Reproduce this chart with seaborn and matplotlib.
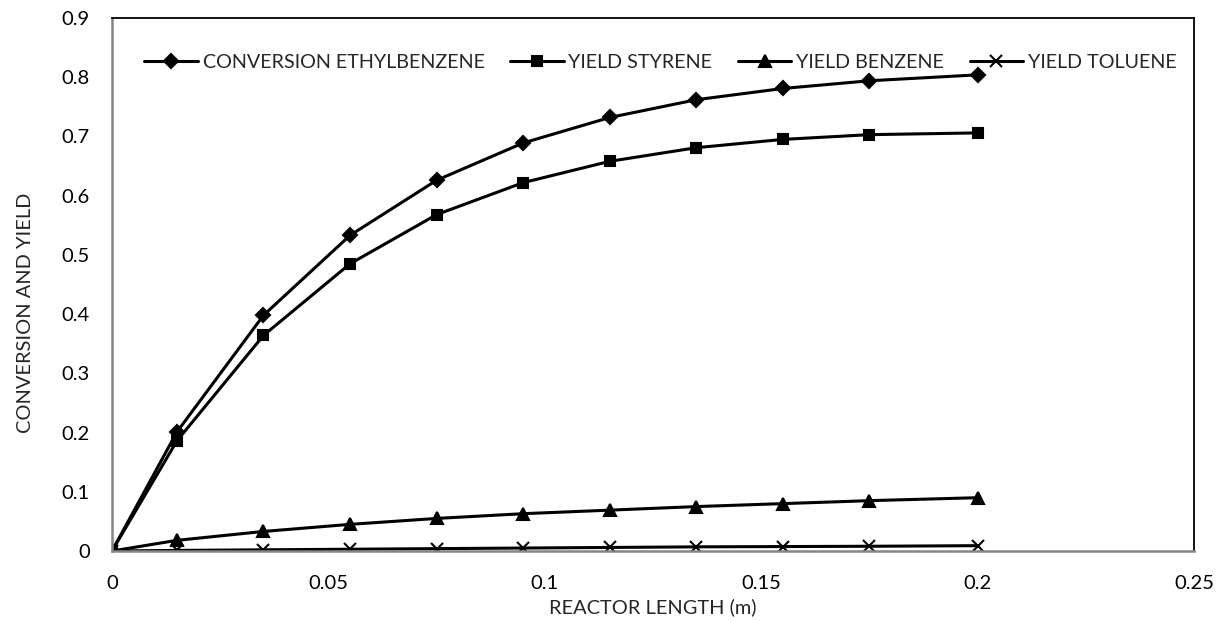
import numpy as np
import pandas as pd
import matplotlib
matplotlib.use("Agg")
import matplotlib.pyplot as plt
import seaborn as sns

# reactor length (m)
length = [0, 0.015, 0.035, 0.055, 0.075, 0.095, 0.115, 0.135, 0.155, 0.175, 0.2]

conversion_eb = [0, 0.201, 0.398, 0.533, 0.626, 0.689, 0.732, 0.762, 0.781, 0.794, 0.804]
yield_styrene = [0, 0.186, 0.364, 0.485, 0.568, 0.622, 0.658, 0.681, 0.695, 0.703, 0.706]
yield_benzene = [0, 0.018, 0.033, 0.045, 0.055, 0.063, 0.069, 0.075, 0.080, 0.085, 0.090]
yield_toluene = [0, 0.001, 0.002, 0.003, 0.004, 0.005, 0.006, 0.007, 0.0075, 0.008, 0.009]

series_names = ["CONVERSION ETHYLBENZENE", "YIELD STYRENE", "YIELD BENZENE", "YIELD TOLUENE"]
series_values = [conversion_eb, yield_styrene, yield_benzene, yield_toluene]

x_ticks = [0, 0.05, 0.1, 0.15, 0.2, 0.25]
x_tick_labels = ["0", "0.05", "0.1", "0.15", "0.2", "0.25"]
y_ticks = [0, 0.1, 0.2, 0.3, 0.4, 0.5, 0.6, 0.7, 0.8, 0.9]
y_tick_labels = ["0", "0.1", "0.2", "0.3", "0.4", "0.5", "0.6", "0.7", "0.8", "0.9"]

sns.set_style("white")
plt.rcParams["font.family"] = ["Lato", "DejaVu Sans"]

markers = {"CONVERSION ETHYLBENZENE": "D", "YIELD STYRENE": "s",
           "YIELD BENZENE": "^", "YIELD TOLUENE": "x"}
msizes = {"CONVERSION ETHYLBENZENE": 7.5, "YIELD STYRENE": 7,
          "YIELD BENZENE": 9, "YIELD TOLUENE": 8}

fig = plt.figure(figsize=(12.23, 6.22), dpi=100)
ax = fig.add_axes([112 / 1223, 1 - 551 / 622, (1194 - 112) / 1223, (551 - 18) / 622])

for name, vals in zip(series_names, series_values):
    df = pd.DataFrame({"length": length, "value": vals})
    sns.lineplot(data=df, x="length", y="value", ax=ax, color="black",
                 linewidth=2.2, marker=markers[name], markersize=msizes[name],
                 markeredgecolor="black", markerfacecolor="black",
                 markeredgewidth=1.5, label=name)

ax.set_xlim(0, 0.25)
ax.set_ylim(0, 0.9)
ax.set_xticks(x_ticks)
ax.set_xticklabels(x_tick_labels)
ax.set_yticks(y_ticks)
ax.set_yticklabels(y_tick_labels)
ax.tick_params(axis="both", direction="out", length=5, width=1.2, color="#868686",
               labelsize=14.5, labelcolor="black", pad=11)
ax.tick_params(axis="x", pad=12)

for side in ["left", "bottom"]:
    ax.spines[side].set_color("#868686")
    ax.spines[side].set_linewidth(1.8)
for side in ["top", "right"]:
    ax.spines[side].set_color("black")
    ax.spines[side].set_linewidth(1.3)

ax.set_xlabel("REACTOR LENGTH (m)", fontsize=14.4)
ax.xaxis.set_label_coords(0.5, -0.088)
ax.set_ylabel("CONVERSION AND YIELD", fontsize=14.4)
ax.yaxis.set_label_coords(-0.072, 0.446)

ax.legend(loc="center", bbox_to_anchor=(0.507, 0.917), ncol=4, frameon=False,
          fontsize=14.2, handlelength=2.7, handletextpad=0.25, columnspacing=1.3,
          borderpad=0)

fig.savefig("out.png", dpi=100)
